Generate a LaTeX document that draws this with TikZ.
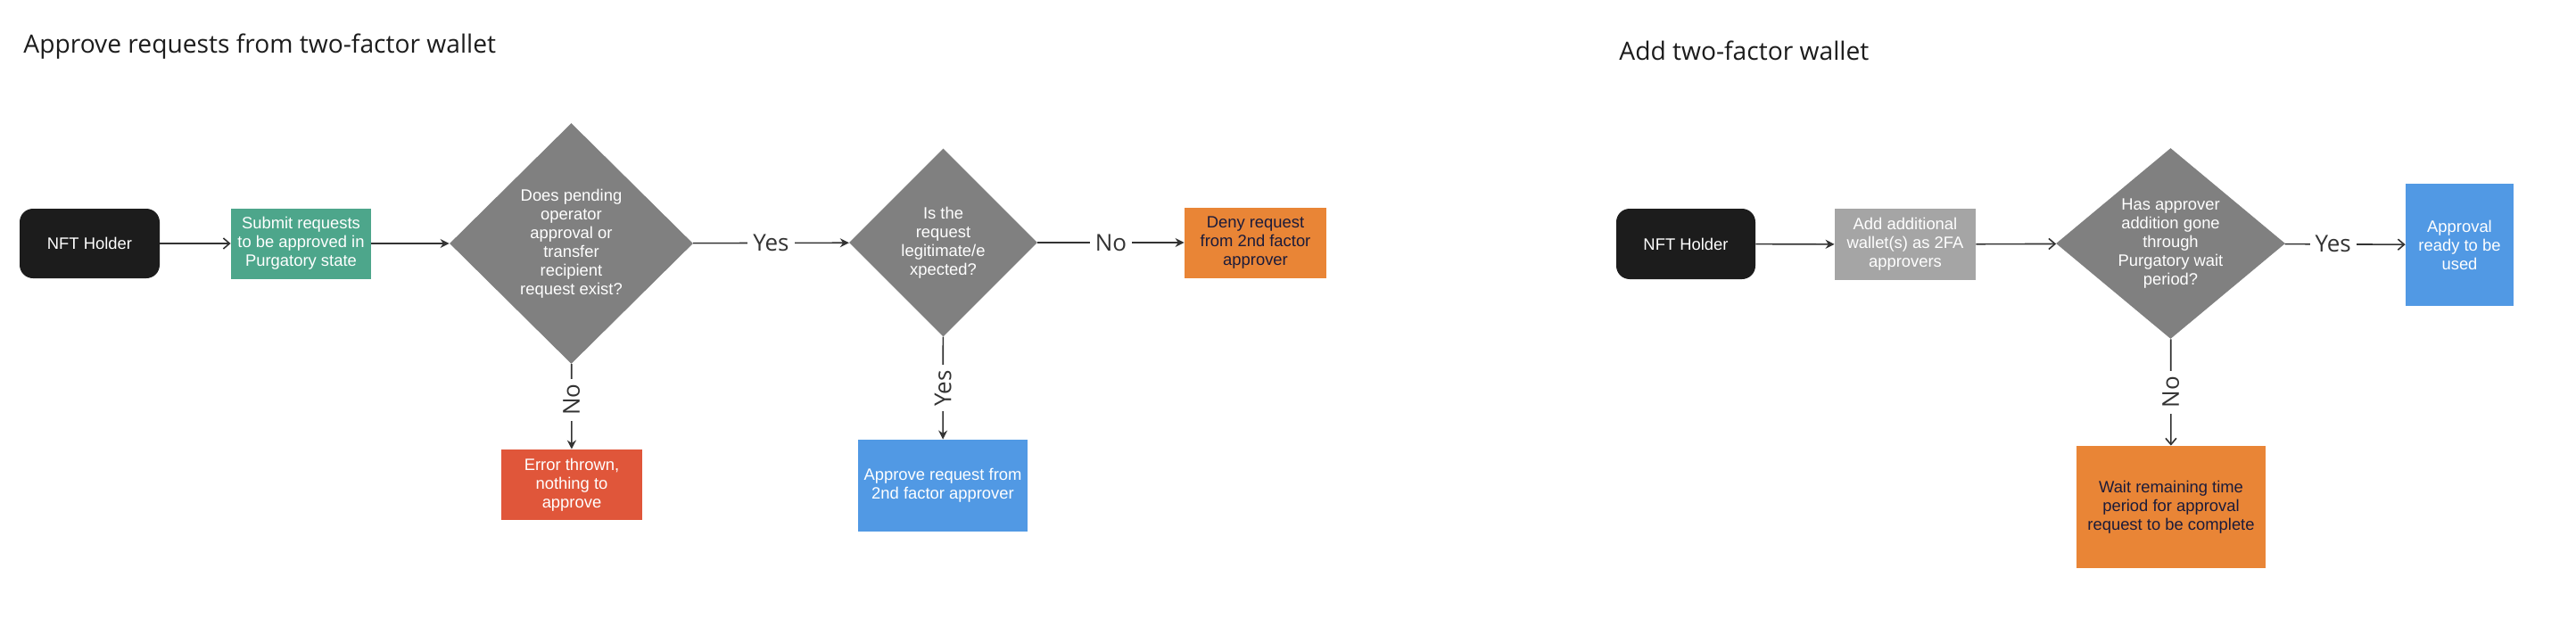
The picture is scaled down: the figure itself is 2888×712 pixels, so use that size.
\documentclass[tikz,border=0pt]{standalone}
\usepackage{fontspec}
\setmainfont{Open Sans}
\newfontfamily\boxfont{Liberation Sans}
\usetikzlibrary{shapes.geometric,arrows.meta}
\definecolor{holderblack}{HTML}{1C1C1C}
\definecolor{submitgreen}{HTML}{4DA68B}
\definecolor{decgray}{HTML}{808080}
\definecolor{errred}{HTML}{E0563A}
\definecolor{denyorange}{HTML}{E98536}
\definecolor{okblue}{HTML}{5199E4}
\definecolor{addgray}{HTML}{A5A5A5}
\definecolor{linegray}{HTML}{333333}
\definecolor{darktext}{HTML}{1B1B3A}
\tikzset{
    box/.style={inner sep=0pt, align=center, text=white,
        font={\boxfont\fontsize{9.2}{10.5}\selectfont}},
    holder/.style={box, fill=holderblack, rounded corners=7.5pt},
    decision/.style={box, diamond, fill=decgray},
    flow/.style={draw=linegray, line width=0.8pt, -{Stealth[length=5pt, width=5pt]}},
    openflow/.style={draw=linegray, line width=0.8pt, -{Straight Barb[length=3.5pt, width=6pt]}},
    lbl/.style={fill=white, inner sep=3pt, text=linegray, font={\fontsize{13}{15}\selectfont}},
    heading/.style={anchor=base west, inner sep=0pt, text=holderblack, font={\fontsize{14.1}{17}\selectfont}}
}
\begin{document}
\begin{tikzpicture}[x=0.5pt, y=-0.5pt]
    \useasboundingbox (0,0) rectangle (2888,712);
    \node[heading] (ttlA) at (26,60) {Approve requests from two-factor wallet};
    \node[heading] (ttlB) at (1815,67) {Add two-factor wallet};

    \node[holder, minimum width=78.5pt, minimum height=39pt] (nftA) at (100.5,273) {NFT Holder};
    \node[box, fill=submitgreen, minimum width=78.5pt, minimum height=39.5pt] (submit) at (337.5,273) {Submit requests\\to be approved in\\Purgatory state};
    \node[decision, aspect=1, minimum width=136.5pt, minimum height=135pt] (decA) at (640.5,273) {Does pending\\operator\\approval or\\transfer\\recipient\\request exist?};
    \node[box, fill=errred, minimum width=79pt, minimum height=39.5pt] (err) at (641,543.5) {Error thrown,\\nothing to\\approve};
    \node[decision, aspect=1, minimum width=105.5pt, minimum height=105.5pt] (decB) at (1057.5,272) {Is the\\request\\legitimate/e\\xpected?};
    \node[box, fill=denyorange, text=darktext, minimum width=79.5pt, minimum height=39.5pt] (deny) at (1407.5,272) {Deny request\\from 2nd factor\\approver};
    \node[box, fill=okblue, minimum width=95pt, minimum height=51.5pt] (approve) at (1057,544.5) {Approve request from\\2nd factor approver};

    \node[holder, minimum width=78pt, minimum height=39.5pt] (nftB) at (1890,273.5) {NFT Holder};
    \node[box, fill=addgray, minimum width=79pt, minimum height=40pt] (addw) at (2136,274) {Add additional\\wallet(s) as 2FA\\approvers};
    \node[decision, aspect=1.2, minimum width=128.5pt, minimum height=107pt] (decC) at (2433.5,273) {Has approver\\addition gone\\through\\Purgatory wait\\period?};
    \node[box, fill=okblue, minimum width=60.5pt, minimum height=68.5pt] (ready) at (2757.5,274.5) {Approval\\ready to be\\used};
    \node[box, fill=denyorange, text=darktext, minimum width=106pt, minimum height=68.5pt] (waitr) at (2434,568.5) {Wait remaining time\\period for approval\\request to be complete};

    \draw[openflow] (nftA) -- (submit);
    \draw[flow] (submit) -- (decA);
    \draw[flow] (decA) -- node[lbl] {Yes} (decB);
    \draw[flow] (decA) -- node[lbl, rotate=90, pos=0.42] {No} (err);
    \draw[flow] (decB) -- node[lbl] {No} (deny);
    \draw[flow] (decB) -- node[lbl, rotate=90] {Yes} (approve);

    \draw[flow] (nftB) -- (addw);
    \draw[openflow] (addw) -- (decC);
    \draw[openflow] (decC) -- node[lbl, pos=0.4] {Yes} (ready);
    \draw[openflow] (decC) -- node[lbl, rotate=90] {No} (waitr);
\end{tikzpicture}
\end{document}
